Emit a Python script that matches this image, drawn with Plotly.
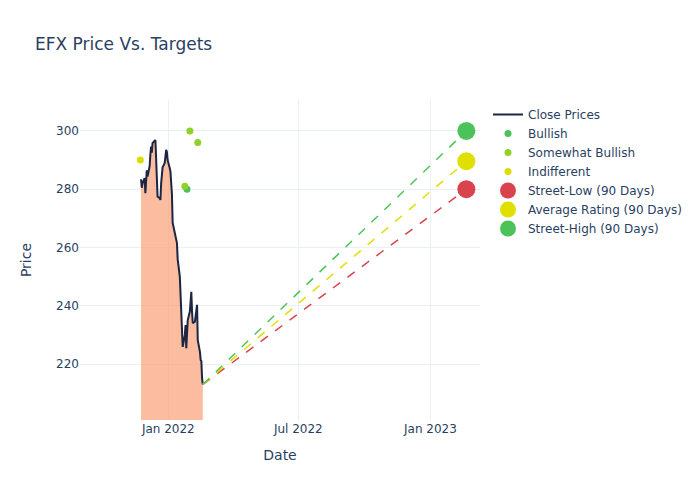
import pandas as pd
import plotly.graph_objects as go

# close prices, business days from 2021-11-24
price_start = '2021-11-24'
close_prices = [283.4, 280.5, 282.0, 283.8, 278.6, 282.0, 286.5, 284.3, 288.0, 292.0,
                294.6, 292.5, 295.8, 296.6, 296.9, 290.5, 284.0, 277.5, 276.9, 276.3,
                282.0, 285.0, 287.5, 289.0, 291.0, 293.5, 292.8, 290.0, 287.2, 286.0,
                282.0, 278.5, 268.5, 265.0, 262.6, 262.0, 261.5, 256.0, 250.0, 244.0,
                238.0, 232.3, 225.9, 230.0, 233.4, 225.4, 230.0, 235.0, 238.0, 241.5,
                244.8, 238.0, 234.0, 234.5, 236.0, 238.0, 240.3, 228.2, 224.2, 221.4,
                221.0, 215.1, 213.0]

bullish_dates = ['2022-01-27']
bullish_prices = [280]
somewhat_dates = ['2022-01-24', '2022-01-31', '2022-02-11']
somewhat_prices = [281, 300, 296]
indifferent_dates = ['2021-11-23']
indifferent_prices = [290]

target_date = '2023-02-20'
street_low = 280
avg_rating = 289.6
street_high = 300

colors = {'low': '#d9434e', 'avg': '#e0e000', 'high': '#4cc35a',
          'bullish': '#4cc35a', 'somewhat': '#8fd12a', 'indifferent': '#dcdc00'}

dates = pd.bdate_range(price_start, periods=len(close_prices))
last_date = dates[-1]
last_price = close_prices[-1]

fig = go.Figure()

# shaded area under the price, kept out of the legend
fig.add_scatter(x=dates, y=close_prices, mode='lines', line=dict(width=0),
                fill='tozeroy', fillcolor='rgba(249,160,118,0.7)',
                showlegend=False, hoverinfo='skip')
fig.add_scatter(x=dates, y=close_prices, mode='lines', name='Close Prices',
                line=dict(color='#1c2541', width=2))

for key, target in [('low', street_low), ('avg', avg_rating), ('high', street_high)]:
    fig.add_scatter(x=[last_date, target_date], y=[last_price, target], mode='lines',
                    line=dict(color=colors[key], width=1.5, dash='dash'),
                    showlegend=False, hoverinfo='skip')

fig.add_scatter(x=bullish_dates, y=bullish_prices, mode='markers', name='Bullish',
                marker=dict(color=colors['bullish'], size=7))
fig.add_scatter(x=somewhat_dates, y=somewhat_prices, mode='markers', name='Somewhat Bullish',
                marker=dict(color=colors['somewhat'], size=7))
fig.add_scatter(x=indifferent_dates, y=indifferent_prices, mode='markers', name='Indifferent',
                marker=dict(color=colors['indifferent'], size=7))

fig.add_scatter(x=[target_date], y=[street_low], mode='markers', name='Street-Low (90 Days)',
                marker=dict(color=colors['low'], size=18))
fig.add_scatter(x=[target_date], y=[avg_rating], mode='markers', name='Average Rating (90 Days)',
                marker=dict(color=colors['avg'], size=18))
fig.add_scatter(x=[target_date], y=[street_high], mode='markers', name='Street-High (90 Days)',
                marker=dict(color=colors['high'], size=18))

# page body adds an 8px border, so the figure is a bit smaller than the window
fig.update_layout(template='plotly_white',
                  font_family='DejaVu Sans',
                  title=dict(text='EFX Price Vs. Targets', x=0.039, y=0.927, yanchor='middle'),
                  xaxis_title='Date',
                  yaxis_title='Price',
                  width=692, height=492,
                  margin=dict(l=72, r=220, t=92, b=80),
                  xaxis=dict(range=['2021-08-31', '2023-03-11'], dtick='M6'),
                  yaxis=dict(range=[200.8, 310.6], title_standoff=21))

fig.write_html("out.html")
